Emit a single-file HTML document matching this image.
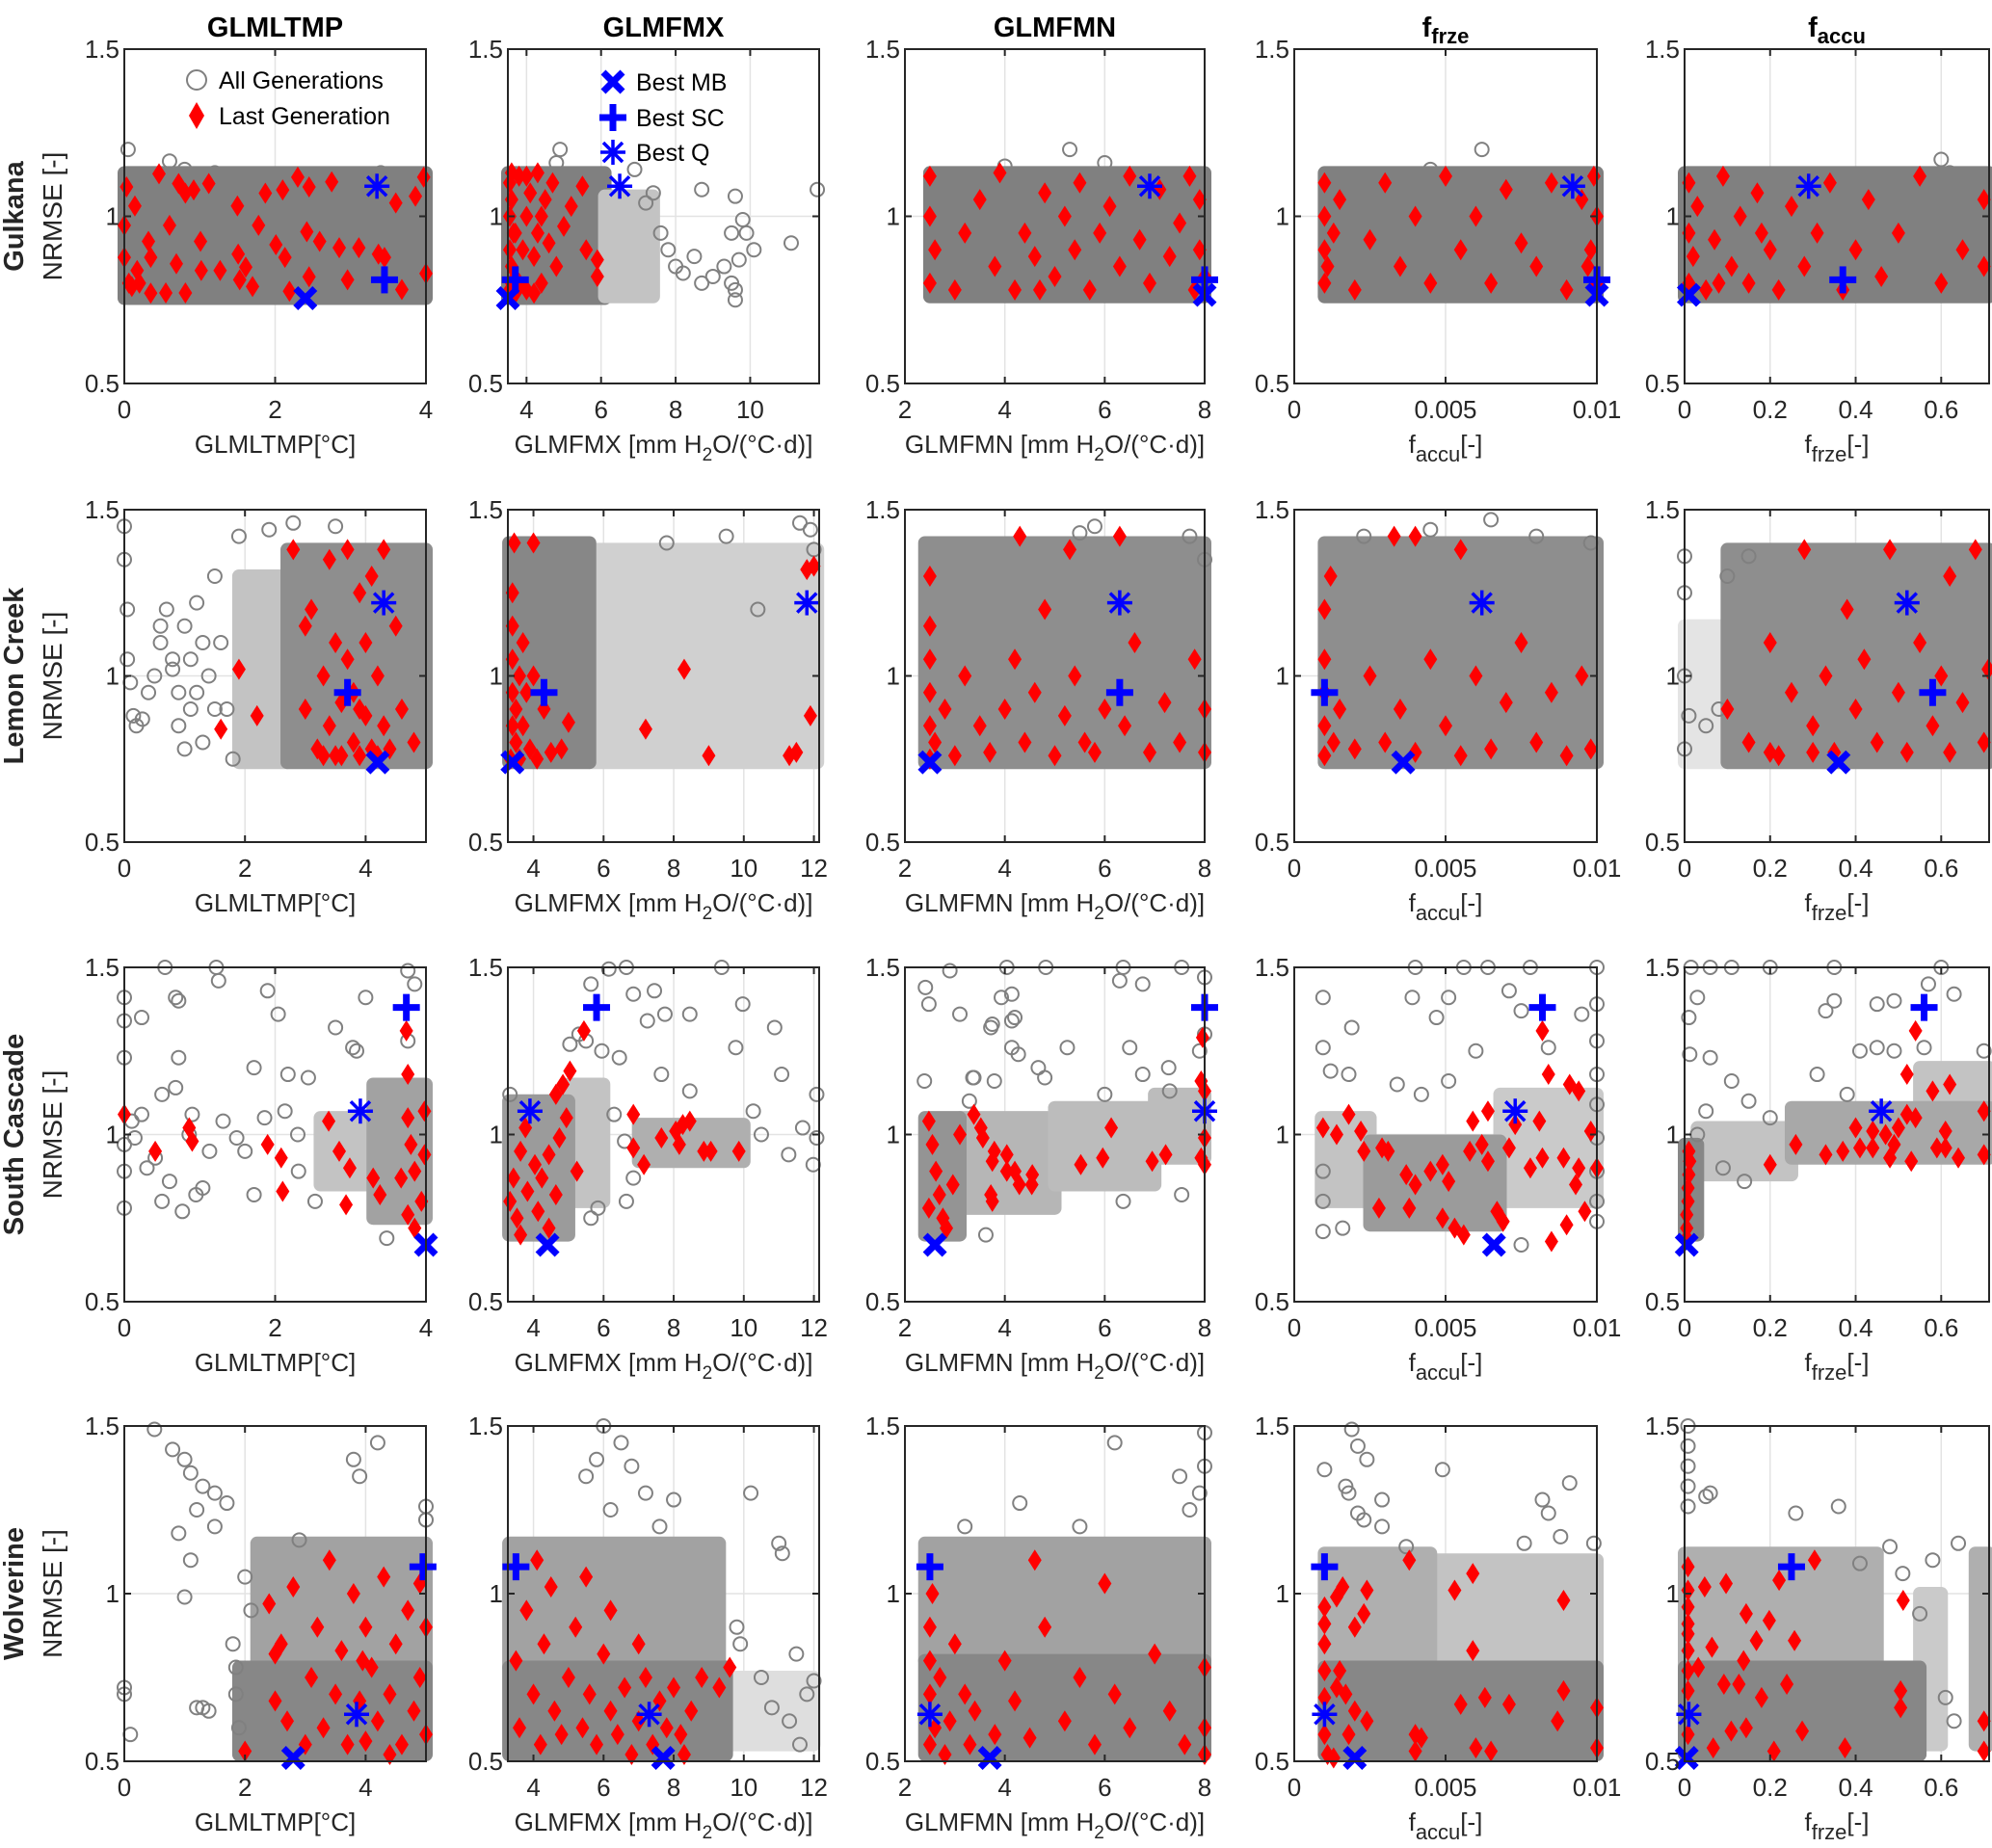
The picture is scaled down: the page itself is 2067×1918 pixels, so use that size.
<!DOCTYPE html>
<html><head><meta charset="utf-8">
<style>
html,body{margin:0;padding:0;background:#fff;}
svg{display:block;font-family:"Liberation Sans",Arial,sans-serif;}
</style></head>
<body>
<svg id="fig" width="2067" height="1918" viewBox="0 0 2067 1918" xmlns="http://www.w3.org/2000/svg"></svg>
<script>
// ---------- DATA (values in data units: [x, NRMSE]) ----------
// dense point clouds: [xmin, xmax, ymin, ymax, density]
const clouds_r1c1=[[0,4,0.755,1.13,1]];
const clouds_r1c2=[[3.5,6.1,0.755,1.13,1],[6.1,7.4,0.76,1.06,0.45]];
const clouds_r1c3=[[2.5,8,0.76,1.13,1]];
const clouds_r1c4=[[0.001,0.01,0.76,1.13,1]];
const clouds_r1c5=[[0,0.712,0.76,1.13,1]];
const clouds_r2c1=[[1.9,2.7,0.74,1.3,0.45],[2.7,5,0.74,1.38,0.85]];
const clouds_r2c2=[[5.6,12.1,0.74,1.38,0.35],[3.3,5.6,0.74,1.4,0.9]];
const clouds_r2c3=[[2.4,8,0.74,1.4,0.85]];
const clouds_r2c4=[[0.001,0.01,0.74,1.4,0.85]];
const clouds_r2c5=[[0,0.1,0.74,1.15,0.2],[0.1,0.712,0.74,1.38,0.85]];
const clouds_r3c1=[[2.6,3.3,0.85,1.05,0.45],[3.3,4,0.75,1.15,0.7]];
const clouds_r3c2=[[5.0,6.0,0.8,1.15,0.45],[3.3,5.0,0.7,1.1,0.75],[7.0,10.0,0.92,1.03,0.6]];
const clouds_r3c3=[[3.1,5,0.78,1.05,0.55],[5,7,0.85,1.08,0.5],[7,8,0.93,1.12,0.5],[2.4,3.1,0.7,1.05,0.8]];
const clouds_r3c4=[[0.0009,0.0025,0.8,1.05,0.45],[0.0068,0.01,0.8,1.12,0.4],[0.0025,0.0068,0.73,0.98,0.75]];
const clouds_r3c5=[[0.03,0.25,0.88,1.02,0.45],[0.55,0.712,1.08,1.2,0.45],[0.25,0.712,0.93,1.08,0.65],[0,0.03,0.7,0.97,0.9]];
const clouds_r4c1=[[2.2,5,0.78,1.15,0.7],[1.9,5,0.52,0.78,0.9]];
const clouds_r4c2=[[9.5,12,0.55,0.75,0.25],[3.3,9.3,0.78,1.15,0.7],[3.3,9.5,0.52,0.78,0.9]];
const clouds_r4c3=[[2.4,8,0.8,1.15,0.7],[2.4,8,0.52,0.8,0.9]];
const clouds_r4c4=[[0.0045,0.01,0.78,1.1,0.45],[0.001,0.0045,0.78,1.12,0.6],[0.001,0.01,0.52,0.78,0.9]];
const clouds_r4c5=[[0.55,0.6,0.55,1.0,0.4],[0.68,0.712,0.55,1.12,0.6],[0,0.45,0.78,1.12,0.6],[0,0.55,0.52,0.78,0.9]];

// scattered "all generations" points outside the dense clouds
const outs_r1c1=[[0.05,1.2],[0.6,1.165],[0.8,1.14],[3.4,1.13],[1.2,1.13]];
const outs_r1c2=[[7.6,0.95],[8.0,0.85],[8.2,0.83],[8.5,0.88],[9.0,0.82],[9.3,0.85],[9.5,0.80],[9.6,0.78],[9.5,0.95],[9.8,0.99],[9.9,0.95],[9.7,0.87],[10.1,0.9],[9.6,0.75],[11.8,1.08],[11.1,0.92],[7.8,0.9],[8.7,0.8],[7.2,1.04],[4.9,1.2],[4.8,1.16],[6.9,1.14],[7.4,1.07],[9.6,1.06],[8.7,1.08]];
const outs_r1c3=[[5.3,1.2],[6.0,1.16],[4.0,1.15]];
const outs_r1c4=[[0.0062,1.2],[0.0045,1.14]];
const outs_r1c5=[[0.6,1.17],[0.62,1.13]];
const outs_r2c1=[[0,1.45],[0,1.35],[0.05,1.2],[0.05,1.05],[0.1,0.98],[0.15,0.88],[0.2,0.85],[0.3,0.87],[0.5,1.0],[0.6,1.1],[0.6,1.15],[0.7,1.2],[0.8,1.05],[0.9,0.95],[1.0,1.15],[1.0,0.78],[1.1,0.9],[1.2,1.22],[1.3,0.8],[1.4,1.0],[1.5,1.3],[1.6,1.1],[1.7,0.9],[1.8,0.75],[1.3,1.1],[1.5,0.9],[1.9,1.42],[2.4,1.44],[2.8,1.46],[3.5,1.45],[0.8,1.02],[0.9,0.85],[0.4,0.95],[1.1,1.05],[1.2,0.95]];
const outs_r2c2=[[11.6,1.46],[11.9,1.44],[9.5,1.42],[7.8,1.4],[10.4,1.2],[12,1.38]];
const outs_r2c3=[[5.8,1.45],[5.5,1.43],[7.7,1.42],[8,1.35]];
const outs_r2c4=[[0.0023,1.42],[0.0045,1.44],[0.0065,1.47],[0.008,1.42],[0.0098,1.4]];
const outs_r2c5=[[0,1.36],[0,1.25],[0,1.0],[0.01,0.88],[0,0.78],[0.05,0.85],[0.08,0.9],[0.1,1.3],[0.15,1.36]];
const outs_r3c1=[[0,1.41],[0,1.34],[0,1.23],[0.54,1.5],[1.22,1.5],[1.25,1.46],[0.68,1.41],[0.72,1.4],[0.23,1.35],[0.72,1.23],[1.9,1.43],[2.04,1.36],[2.8,1.32],[3.2,1.41],[3.08,1.25],[1.72,1.2],[2.17,1.18],[2.44,1.17],[0.68,1.14],[0.5,1.12],[0.23,1.06],[0,0.97],[0,0.89],[0,0.78],[0.14,0.99],[0.41,0.93],[0.5,0.8],[0.77,0.77],[1.04,0.84],[1.31,1.04],[1.49,0.99],[1.72,0.82],[2.13,1.07],[2.31,0.89],[2.53,0.8],[1.13,0.95],[1.86,1.05],[0.86,1.0],[3.76,1.49],[3.85,1.45],[3.48,0.69],[3.03,1.26],[3.76,1.28],[0.3,0.9],[0.6,0.86],[0.95,0.82],[1.6,0.95],[2.3,1.0],[0.1,1.04],[0.9,1.06]];
const outs_r3c2=[[6.15,1.495],[6.65,1.5],[5.64,1.45],[6.85,1.42],[7.45,1.43],[9.37,1.5],[9.97,1.39],[8.46,1.36],[7.25,1.34],[7.75,1.36],[9.77,1.26],[10.88,1.32],[11.08,1.18],[11.28,0.94],[12.08,1.12],[12.08,0.99],[11.98,0.91],[11.68,1.02],[6.45,1.23],[5.95,1.25],[5.04,1.27],[7.65,1.18],[8.46,1.13],[10.27,1.07],[6.85,0.87],[6.65,0.8],[5.64,0.75],[5.84,0.78],[3.33,1.12],[6.3,1.06],[6.6,0.98],[10.5,1.0],[5.3,1.3],[5.5,1.28]];
const outs_r3c3=[[4.04,1.5],[4.82,1.5],[6.37,1.5],[7.54,1.5],[8,1.47],[4.14,1.42],[4.2,1.35],[6.3,1.46],[6.76,1.45],[3.75,1.33],[5.25,1.26],[6.5,1.26],[4.14,1.26],[4.27,1.24],[4.67,1.2],[4.8,1.17],[6.76,1.18],[7.28,1.2],[7.54,0.82],[3.62,0.7],[6.37,0.8],[3.36,1.17],[3.29,1.1],[2.41,1.44],[2.48,1.39],[2.9,1.49],[3.1,1.36],[3.93,1.41],[4.14,1.34],[3.79,1.16],[3.38,1.17],[3.72,1.32],[2.39,1.16],[8,1.3],[7.9,1.25],[7.3,1.13],[6.0,1.12]];
const outs_r3c4=[[0.00095,1.41],[0.004,1.5],[0.0039,1.41],[0.0056,1.5],[0.0064,1.5],[0.0078,1.5],[0.01,1.5],[0.0047,1.35],[0.0051,1.41],[0.006,1.25],[0.0071,1.43],[0.0075,1.37],[0.0095,1.36],[0.01,1.39],[0.01,1.28],[0.00095,1.26],[0.0012,1.19],[0.0019,1.32],[0.0018,1.18],[0.0034,1.15],[0.0042,1.12],[0.0051,1.16],[0.0084,1.26],[0.00095,0.71],[0.0016,0.72],[0.0075,0.67],[0.01,1.18],[0.01,1.09],[0.01,0.99],[0.01,0.89],[0.01,0.8],[0.01,0.74],[0.00095,0.8],[0.00095,0.89]];
const outs_r3c5=[[0.015,1.5],[0.06,1.5],[0.11,1.5],[0.2,1.5],[0.35,1.5],[0.6,1.5],[0.03,1.41],[0.01,1.35],[0.012,1.24],[0.06,1.23],[0.11,1.16],[0.35,1.4],[0.33,1.37],[0.45,1.39],[0.49,1.4],[0.57,1.45],[0.63,1.42],[0.41,1.25],[0.45,1.26],[0.49,1.25],[0.56,1.26],[0.7,1.25],[0.14,0.86],[0.09,0.9],[0.05,1.07],[0.03,1.0],[0.31,1.18],[0.2,1.05],[0.15,1.1],[0.38,1.12]];
const outs_r4c1=[[0.5,1.49],[0.8,1.43],[1.0,1.4],[1.1,1.36],[1.3,1.32],[1.5,1.3],[1.2,1.25],[1.5,1.2],[1.7,1.27],[0.9,1.18],[1.1,1.1],[1.0,0.99],[1.3,0.66],[1.4,0.65],[1.2,0.66],[0,0.72],[0,0.7],[0.1,0.58],[1.8,0.85],[1.85,0.7],[1.9,0.6],[1.85,0.78],[2.0,1.05],[2.9,1.16],[3.8,1.4],[3.9,1.35],[4.2,1.45],[5,1.26],[5,1.22],[2.1,0.95]];
const outs_r4c2=[[6.0,1.5],[6.5,1.45],[5.8,1.4],[6.8,1.38],[7.2,1.3],[5.5,1.35],[6.2,1.25],[8.0,1.28],[7.6,1.2],[10.2,1.3],[11.0,1.15],[11.1,1.12],[11.5,0.82],[12,0.74],[9.9,0.85],[10.5,0.75],[11.3,0.62],[11.8,0.7],[11.6,0.55],[9.8,0.9],[10.8,0.66]];
const outs_r4c3=[[4.3,1.27],[6.2,1.45],[7.5,1.35],[7.7,1.25],[8,1.48],[8,1.38],[7.9,1.3],[5.5,1.2],[3.2,1.2]];
const outs_r4c4=[[0.0019,1.49],[0.001,1.37],[0.0021,1.44],[0.0024,1.4],[0.0017,1.32],[0.0018,1.3],[0.0029,1.28],[0.0021,1.24],[0.0023,1.22],[0.0049,1.37],[0.0091,1.33],[0.0082,1.28],[0.0084,1.24],[0.0076,1.15],[0.0088,1.17],[0.0037,1.14],[0.0029,1.2],[0.0099,1.15]];
const outs_r4c5=[[0.008,1.5],[0.008,1.44],[0.008,1.38],[0.008,1.32],[0.008,1.26],[0.05,1.29],[0.06,1.3],[0.26,1.24],[0.36,1.26],[0.64,1.15],[0.48,1.14],[0.58,1.1],[0.41,1.09],[0.51,1.06],[0.63,0.62],[0.61,0.69],[0.55,0.94]];

// last generation (red diamonds)
const red_r1c1=[[0.03,1.088],[0,0.973],[0,0.877],[0.06,0.8],[0.14,1.031],[0.17,0.838],[0.32,0.925],[0.35,0.877],[0.46,1.127],[0.55,0.771],[0.6,0.973],[0.69,0.858],[0.72,1.098],[0.81,1.069],[0.81,0.771],[0.92,1.079],[1.01,0.925],[1.02,0.838],[1.12,1.098],[1.27,0.838],[1.5,1.031],[1.51,0.887],[1.53,0.81],[1.61,0.848],[1.7,0.79],[1.78,0.973],[1.87,1.069],[2.01,0.915],[2.1,1.079],[2.13,0.877],[2.19,0.776],[2.3,1.117],[2.42,0.954],[2.45,1.088],[2.45,0.819],[2.59,0.925],[2.75,1.103],[2.85,0.906],[2.96,0.81],[3.11,0.906],[3.37,0.887],[3.45,0.877],[3.6,1.04],[3.68,0.781],[3.86,1.06],[3.97,1.117],[4.0,0.829],[0.1,0.79],[0.2,0.8],[0.35,0.77]];
const red_r1c2=[[3.55,1.1],[3.55,1.0],[3.55,0.9],[3.6,0.85],[3.6,1.05],[3.7,0.95],[3.8,0.8],[3.8,1.12],[3.9,0.9],[4.0,1.0],[4.0,0.78],[4.1,1.07],[4.2,0.88],[4.3,0.95],[4.3,1.13],[4.4,0.8],[4.5,1.05],[4.6,0.92],[4.7,1.1],[4.8,0.85],[5.0,0.97],[5.2,1.03],[5.5,1.09],[5.6,0.9],[3.55,0.78],[3.6,1.13],[3.7,0.77],[4.0,1.12],[4.2,0.77],[5.9,0.87],[5.9,0.82],[3.65,0.95],[3.6,0.8],[4.4,1.0]];
const red_r1c3=[[2.5,0.8],[2.5,1.0],[2.5,1.12],[2.6,0.9],[3.0,0.78],[3.2,0.95],[3.5,1.05],[3.8,0.85],[3.9,1.13],[4.2,0.78],[4.4,0.95],[4.6,0.88],[4.8,1.07],[5.0,0.82],[5.2,1.0],[5.4,0.9],[5.5,1.1],[5.7,0.78],[5.9,0.95],[6.1,1.03],[6.3,0.85],[6.5,1.12],[6.7,0.93],[6.9,0.8],[7.1,1.08],[7.3,0.88],[7.5,0.98],[7.7,1.12],[7.9,0.9],[7.9,1.05],[8,0.82],[7.8,0.78],[4.7,0.78]];
const red_r1c4=[[0.001,0.8],[0.001,0.9],[0.001,1.0],[0.001,1.1],[0.0011,0.85],[0.0013,0.95],[0.0015,1.05],[0.002,0.78],[0.0025,0.93],[0.003,1.1],[0.0035,0.85],[0.004,1.0],[0.0045,0.8],[0.005,1.12],[0.0055,0.9],[0.006,1.0],[0.0065,0.8],[0.007,1.08],[0.0075,0.92],[0.008,0.85],[0.0085,1.1],[0.009,0.78],[0.0095,1.05],[0.0098,0.9],[0.01,0.8],[0.01,1.0],[0.0099,1.12],[0.0097,0.85]];
const red_r1c5=[[0.01,0.8],[0.01,0.95],[0.01,1.1],[0.02,0.88],[0.03,1.03],[0.05,0.78],[0.07,0.93],[0.09,1.12],[0.11,0.85],[0.13,1.0],[0.15,0.8],[0.17,1.07],[0.2,0.9],[0.22,0.78],[0.25,1.03],[0.28,0.85],[0.31,0.95],[0.34,1.1],[0.37,0.78],[0.4,0.9],[0.43,1.05],[0.46,0.82],[0.5,0.95],[0.55,1.12],[0.6,0.8],[0.65,0.9],[0.7,0.85],[0.7,1.05],[0.08,0.8],[0.18,0.95]];
const red_r2c1=[[1.6,0.84],[1.9,1.02],[2.2,0.88],[2.8,1.38],[3.0,0.9],[3.1,1.2],[3.2,0.78],[3.3,1.0],[3.4,1.35],[3.4,0.85],[3.5,1.1],[3.6,0.76],[3.6,0.92],[3.7,1.38],[3.7,1.05],[3.8,0.8],[3.8,0.95],[3.9,1.25],[3.9,0.76],[4.0,0.88],[4.0,1.1],[4.1,1.3],[4.1,0.78],[4.2,1.0],[4.3,0.85],[4.3,1.38],[4.4,0.78],[4.5,1.15],[4.6,0.9],[3.3,0.76],[3.5,0.76],[3.9,0.9],[4.2,0.76],[3.0,1.15],[4.8,0.8]];
const red_r2c2=[[3.35,0.75],[3.4,0.85],[3.4,0.95],[3.4,1.05],[3.4,1.15],[3.4,1.25],[3.45,1.4],[3.5,0.8],[3.5,0.9],[3.6,1.0],[3.6,0.75],[3.7,1.1],[3.7,0.85],[3.8,0.95],[3.9,0.78],[4.0,1.0],[4.0,1.4],[4.1,0.75],[4.3,0.9],[4.5,0.77],[4.8,0.78],[5.0,0.86],[7.2,0.84],[8.3,1.02],[9.0,0.76],[11.3,0.76],[11.8,1.32],[12,1.33],[11.9,0.88],[11.5,0.77]];
const red_r2c3=[[2.5,0.75],[2.5,0.85],[2.5,0.95],[2.5,1.05],[2.5,1.15],[2.5,1.3],[2.6,0.8],[2.8,0.9],[3.0,0.76],[3.2,1.0],[3.5,0.85],[3.7,0.77],[4.0,0.9],[4.2,1.05],[4.4,0.8],[4.6,0.95],[4.8,1.2],[5.0,0.76],[5.2,0.88],[5.4,1.0],[5.6,0.8],[5.8,0.77],[6.0,0.9],[6.3,1.42],[6.4,0.85],[6.6,1.1],[6.9,0.77],[7.2,0.92],[7.5,0.8],[7.8,1.05],[8,0.77],[8,0.9],[4.3,1.42],[5.3,1.38]];
const red_r2c4=[[0.001,0.76],[0.001,0.85],[0.001,0.95],[0.001,1.05],[0.001,1.2],[0.0012,1.3],[0.0013,0.8],[0.0015,0.9],[0.002,0.78],[0.0025,1.0],[0.003,0.8],[0.0033,1.42],[0.0035,0.9],[0.004,0.77],[0.0045,1.05],[0.005,0.85],[0.0055,0.76],[0.006,1.0],[0.0065,0.78],[0.007,0.92],[0.0075,1.1],[0.008,0.8],[0.0085,0.95],[0.009,0.76],[0.0095,1.0],[0.0098,0.78],[0.0055,1.38],[0.004,1.42]];
const red_r2c5=[[0.1,0.9],[0.15,0.8],[0.2,1.1],[0.22,0.76],[0.25,0.95],[0.28,1.38],[0.3,0.85],[0.33,1.0],[0.35,0.77],[0.38,1.2],[0.4,0.9],[0.42,1.05],[0.45,0.8],[0.48,1.38],[0.5,0.95],[0.52,0.77],[0.55,1.1],[0.58,0.85],[0.6,1.0],[0.62,0.77],[0.65,0.92],[0.68,1.38],[0.7,0.8],[0.71,1.02],[0.2,0.77],[0.3,0.77],[0.62,1.3]];
const red_r3c1=[[0,1.06],[0.41,0.95],[0.86,1.02],[0.9,0.98],[1.9,0.97],[2.08,0.93],[2.1,0.83],[2.71,1.04],[2.85,0.95],[2.99,0.9],[2.94,0.79],[3.3,0.87],[3.39,0.82],[3.67,0.87],[3.74,1.31],[3.76,1.18],[3.76,1.05],[3.8,0.97],[3.85,0.89],[3.94,0.8],[3.98,1.07],[3.98,0.94],[3.76,0.76],[3.85,0.72]];
const red_r3c2=[[3.77,1.02],[5.04,1.19],[4.84,1.15],[4.64,1.12],[4.94,1.05],[5.44,1.31],[5.24,0.89],[4.74,0.99],[4.44,0.94],[4.04,0.91],[3.63,0.95],[3.43,0.87],[3.33,0.8],[3.53,0.75],[3.83,0.83],[4.13,0.77],[4.44,0.72],[3.63,0.7],[4.64,0.82],[4.24,0.87],[6.85,1.06],[7.15,0.91],[6.85,0.96],[7.65,0.99],[8.06,1.01],[8.26,1.03],[8.46,1.04],[8.86,0.95],[9.06,0.95],[9.86,0.95],[8.16,0.97]];
const red_r3c3=[[2.48,1.04],[2.55,0.97],[2.62,0.89],[2.69,0.82],[2.76,0.75],[2.83,0.72],[2.48,0.78],[2.96,0.85],[3.1,1.0],[3.38,1.06],[3.52,1.02],[3.79,0.95],[4.2,0.89],[4.55,0.88],[3.72,0.82],[3.56,0.99],[3.75,0.92],[4.04,0.94],[4.04,0.89],[4.29,0.85],[4.54,0.85],[3.75,0.8],[5.52,0.91],[5.96,0.93],[6.13,1.02],[6.95,0.92],[7.22,0.94],[7.93,1.16],[8,1.13],[8,0.99],[7.93,0.93],[8,0.91],[7.96,1.29]];
const red_r3c4=[[0.00095,1.02],[0.0014,1.0],[0.0018,1.06],[0.0022,1.01],[0.0023,0.95],[0.0029,0.96],[0.0031,0.95],[0.0028,0.78],[0.0038,0.78],[0.0037,0.88],[0.004,0.85],[0.0045,0.89],[0.0049,0.91],[0.0051,0.86],[0.0049,0.75],[0.0053,0.72],[0.0056,0.7],[0.0058,0.95],[0.0059,1.04],[0.0062,0.97],[0.0064,1.07],[0.0064,0.92],[0.0067,0.77],[0.0069,0.74],[0.0071,0.96],[0.0073,1.03],[0.0078,0.9],[0.0081,1.04],[0.0082,0.93],[0.0082,1.31],[0.0084,1.18],[0.0089,0.93],[0.0091,1.15],[0.0094,1.13],[0.0094,0.9],[0.0093,0.85],[0.0098,1.01],[0.01,0.9],[0.0096,0.77],[0.009,0.73],[0.0085,0.68]];
const red_r3c5=[[0.005,0.69],[0.005,0.72],[0.005,0.76],[0.008,0.8],[0.008,0.84],[0.01,0.88],[0.012,0.92],[0.01,0.95],[0.2,0.91],[0.26,0.97],[0.33,0.94],[0.37,0.95],[0.4,1.02],[0.41,0.96],[0.44,1.01],[0.44,0.96],[0.47,1.0],[0.48,0.93],[0.49,0.97],[0.5,1.02],[0.52,1.06],[0.52,1.18],[0.53,0.92],[0.54,1.05],[0.54,1.31],[0.58,1.13],[0.59,0.96],[0.61,1.01],[0.62,1.15],[0.64,0.93],[0.7,1.07],[0.7,0.94],[0.61,0.96]];
const red_r4c1=[[2.0,0.53],[2.4,0.97],[2.5,0.68],[2.6,0.85],[2.7,0.62],[2.8,1.02],[3.0,0.55],[3.1,0.75],[3.2,0.9],[3.3,0.6],[3.4,1.1],[3.5,0.7],[3.6,0.83],[3.7,0.55],[3.8,1.0],[3.9,0.68],[4.0,0.9],[4.0,0.56],[4.1,0.78],[4.2,0.62],[4.3,1.05],[4.4,0.7],[4.5,0.85],[4.6,0.55],[4.7,0.95],[4.8,0.65],[4.9,0.75],[5.0,0.9],[5.0,0.58],[4.9,1.03],[3.95,0.8],[4.4,0.52],[2.5,0.82]];
const red_r4c2=[[3.5,0.8],[3.6,0.6],[3.8,0.95],[4.0,0.7],[4.2,0.55],[4.3,0.85],[4.5,1.02],[4.6,0.65],[4.8,0.58],[5.0,0.75],[5.2,0.9],[5.4,0.6],[5.6,0.7],[5.8,0.55],[6.0,0.82],[6.2,0.65],[6.4,0.58],[6.6,0.72],[6.8,0.52],[7.0,0.62],[7.2,0.75],[7.4,0.55],[7.6,0.68],[7.8,0.6],[8.0,0.72],[8.2,0.58],[8.5,0.65],[8.8,0.75],[9.3,0.72],[9.6,0.78],[5.5,1.05],[6.2,0.95],[4.1,1.1],[8.3,0.52],[7.0,0.85]];
const red_r4c3=[[2.5,0.55],[2.5,0.7],[2.5,0.8],[2.5,0.9],[2.55,1.0],[2.6,0.6],[2.7,0.75],[2.8,0.52],[2.9,0.62],[3.0,0.85],[3.2,0.7],[3.3,0.55],[3.4,0.65],[3.8,0.58],[4.0,0.8],[4.2,0.68],[4.5,0.57],[4.8,0.9],[5.2,0.62],[5.5,0.75],[5.8,0.55],[6.0,1.03],[6.2,0.7],[6.5,0.6],[7.0,0.82],[7.3,0.65],[7.6,0.55],[8.0,0.6],[8.0,0.78],[8,0.52],[4.6,1.1]];
const red_r4c4=[[0.001,0.96],[0.001,0.91],[0.001,0.85],[0.001,0.77],[0.001,0.69],[0.001,0.58],[0.0011,0.52],[0.0014,0.99],[0.0016,1.02],[0.002,0.9],[0.0023,0.94],[0.0024,1.01],[0.0015,0.77],[0.0014,0.72],[0.0017,0.7],[0.002,0.65],[0.0024,0.62],[0.0018,0.58],[0.0013,0.51],[0.0038,1.1],[0.004,0.58],[0.0042,0.57],[0.004,0.53],[0.0053,1.01],[0.0055,0.67],[0.0059,0.83],[0.0059,1.06],[0.0063,0.69],[0.006,0.54],[0.0065,0.53],[0.0071,0.67],[0.0087,0.62],[0.0089,0.71],[0.0089,0.98],[0.01,0.66],[0.01,0.54]];
const red_r4c5=[[0.008,1.08],[0.008,1.01],[0.008,0.96],[0.008,0.91],[0.008,0.88],[0.008,0.83],[0.008,0.77],[0.008,0.71],[0.008,0.58],[0.032,0.78],[0.047,1.02],[0.064,0.84],[0.067,0.54],[0.092,0.73],[0.097,1.03],[0.109,0.59],[0.127,0.73],[0.138,0.8],[0.144,0.94],[0.144,0.6],[0.168,0.86],[0.18,0.69],[0.198,0.92],[0.209,0.53],[0.221,1.04],[0.239,0.73],[0.257,0.86],[0.275,0.59],[0.304,1.1],[0.375,0.54],[0.511,0.98],[0.505,0.71],[0.505,0.66],[0.70,0.62],[0.70,0.53]];

// best parameter sets: [Best MB, Best SC, Best Q]
const best_r1c1=[[2.4,0.755],[3.45,0.81],[3.35,1.09]];
const best_r1c2=[[3.5,0.755],[3.7,0.81],[6.5,1.09]];
const best_r1c3=[[8,0.765],[8,0.81],[6.9,1.09]];
const best_r1c4=[[0.01,0.765],[0.01,0.81],[0.0092,1.09]];
const best_r1c5=[[0.01,0.765],[0.37,0.81],[0.29,1.09]];
const best_r2c1=[[4.2,0.74],[3.7,0.95],[4.3,1.22]];
const best_r2c2=[[3.4,0.74],[4.3,0.95],[11.8,1.22]];
const best_r2c3=[[2.5,0.74],[6.3,0.95],[6.3,1.22]];
const best_r2c4=[[0.0036,0.74],[0.001,0.95],[0.0062,1.22]];
const best_r2c5=[[0.36,0.74],[0.58,0.95],[0.52,1.22]];
const best_r3c1=[[4,0.67],[3.74,1.38],[3.13,1.07]];
const best_r3c2=[[4.4,0.67],[5.8,1.38],[3.9,1.07]];
const best_r3c3=[[2.6,0.67],[8,1.38],[8,1.07]];
const best_r3c4=[[0.0066,0.67],[0.0082,1.38],[0.0073,1.07]];
const best_r3c5=[[0.005,0.67],[0.56,1.38],[0.46,1.07]];
const best_r4c1=[[2.8,0.51],[4.95,1.08],[3.85,0.64]];
const best_r4c2=[[7.7,0.51],[3.5,1.08],[7.3,0.64]];
const best_r4c3=[[3.7,0.51],[2.5,1.08],[2.5,0.64]];
const best_r4c4=[[0.002,0.51],[0.001,1.08],[0.001,0.64]];
const best_r4c5=[[0.005,0.51],[0.25,1.08],[0.01,0.64]];

// axis settings
const glaciers=["Gulkana","Lemon Creek","South Cascade","Wolverine"];
const yTicks=[0.5,1,1.5];
const yTickLabels=["0.5","1","1.5"];
const xDomains=[
 [[0,4],[3.5,11.85],[2,8],[0,0.01],[0,0.712]],
 [[0,5],[3.27,12.15],[2,8],[0,0.01],[0,0.712]],
 [[0,4],[3.27,12.15],[2,8],[0,0.01],[0,0.712]],
 [[0,5],[3.27,12.15],[2,8],[0,0.01],[0,0.712]]];
const xTicksC1=[0,2,4];
const xTicksC2r1=[4,6,8,10];
const xTicksC2=[4,6,8,10,12];
const xTicksC3=[2,4,6,8];
const xTicksC4=[0,0.005,0.01];
const xTickLabelsC4=["0","0.005","0.01"];
const xTicksC5=[0,0.2,0.4,0.6];

const allClouds=[[clouds_r1c1,clouds_r1c2,clouds_r1c3,clouds_r1c4,clouds_r1c5],[clouds_r2c1,clouds_r2c2,clouds_r2c3,clouds_r2c4,clouds_r2c5],[clouds_r3c1,clouds_r3c2,clouds_r3c3,clouds_r3c4,clouds_r3c5],[clouds_r4c1,clouds_r4c2,clouds_r4c3,clouds_r4c4,clouds_r4c5]];
const allOuts=[[outs_r1c1,outs_r1c2,outs_r1c3,outs_r1c4,outs_r1c5],[outs_r2c1,outs_r2c2,outs_r2c3,outs_r2c4,outs_r2c5],[outs_r3c1,outs_r3c2,outs_r3c3,outs_r3c4,outs_r3c5],[outs_r4c1,outs_r4c2,outs_r4c3,outs_r4c4,outs_r4c5]];
const allRed=[[red_r1c1,red_r1c2,red_r1c3,red_r1c4,red_r1c5],[red_r2c1,red_r2c2,red_r2c3,red_r2c4,red_r2c5],[red_r3c1,red_r3c2,red_r3c3,red_r3c4,red_r3c5],[red_r4c1,red_r4c2,red_r4c3,red_r4c4,red_r4c5]];
const allBest=[[best_r1c1,best_r1c2,best_r1c3,best_r1c4,best_r1c5],[best_r2c1,best_r2c2,best_r2c3,best_r2c4,best_r2c5],[best_r3c1,best_r3c2,best_r3c3,best_r3c4,best_r3c5],[best_r4c1,best_r4c2,best_r4c3,best_r4c4,best_r4c5]];

// ---------- LAYOUT ----------
const colBox=[[129,442],[527,850],[939,1250],[1343,1657],[1748,2064]];
const rowBox=[[51,398],[529,874],[1004,1351],[1480,1828]];
const NS="http://www.w3.org/2000/svg";
const svg=document.getElementById("fig");
function mk(tag,attrs,parent){const e=document.createElementNS(NS,tag);for(const k in attrs)e.setAttribute(k,attrs[k]);(parent||svg).appendChild(e);return e;}
const GRAY="#808080",BLUE="#0000ff",RED="#ff0000";
function cloudColor(d){const v=Math.round(255-Math.min(1,d*1.05)*(255-128));return `rgb(${v},${v},${v})`;}

function circle(g,x,y){const c=mk("circle",{cx:x,cy:y,r:7,fill:"none",stroke:GRAY,"stroke-width":2},g);

return c;}
function diamond(g,x,y){const p=mk("polygon",{points:`${x},${y-11} ${x+7},${y} ${x},${y+11} ${x-7},${y}`,fill:RED},g);

return p;}
function bestMB(g,x,y){const gg=mk("g",{stroke:BLUE,"stroke-width":7},g);


mk("line",{x1:x-10,y1:y-10,x2:x+10,y2:y+10},gg);mk("line",{x1:x-10,y1:y+10,x2:x+10,y2:y-10},gg);return gg;}
function bestSC(g,x,y){const gg=mk("g",{stroke:BLUE,"stroke-width":7},g);


mk("line",{x1:x-14,y1:y,x2:x+14,y2:y},gg);mk("line",{x1:x,y1:y-14,x2:x,y2:y+14},gg);return gg;}
function bestQ(g,x,y){const gg=mk("g",{stroke:BLUE,"stroke-width":3.5},g);


mk("line",{x1:x-13,y1:y,x2:x+13,y2:y},gg);mk("line",{x1:x,y1:y-13,x2:x,y2:y+13},gg);
mk("line",{x1:x-10,y1:y-10,x2:x+10,y2:y+10},gg);mk("line",{x1:x-10,y1:y+10,x2:x+10,y2:y-10},gg);return gg;}

function xTicksFor(r,c){
 if(c===0)return [xTicksC1,xTicksC1.map(String)];
 if(c===1)return r===0?[xTicksC2r1,xTicksC2r1.map(String)]:[xTicksC2,xTicksC2.map(String)];
 if(c===2)return [xTicksC3,xTicksC3.map(String)];
 if(c===3)return [xTicksC4,xTickLabelsC4];
 return [xTicksC5,xTicksC5.map(String)];
}

for(let r=0;r<4;r++){
 const [top,bot]=rowBox[r];
 for(let c=0;c<5;c++){
  const [L,R]=colBox[c];
  const [d0,d1]=xDomains[r][c];
  const sx=v=>L+(v-d0)/(d1-d0)*(R-L);
  const sy=v=>bot-(v-0.5)/(1.0)*(bot-top);
  const g=mk("g",{});
  
  
  const [xt,xtl]=xTicksFor(r,c);
  const grid=mk("g",{stroke:"#e3e3e3","stroke-width":1.5},g);
  
  
  xt.forEach(v=>{const X=sx(v);if(X>L+2&&X<R-2)mk("line",{x1:X,y1:top,x2:X,y2:bot},grid);});
  mk("line",{x1:L,y1:sy(1),x2:R,y2:sy(1)},grid);
  allClouds[r][c].forEach(cl=>{
   const x0=sx(cl[0]),x1=sx(cl[1]),y0=sy(cl[3]),y1=sy(cl[2]);
   const rc=mk("rect",{x:x0-7,y:y0-7,width:x1-x0+14,height:y1-y0+14,rx:7,fill:cloudColor(cl[4])},g);
   
   
  });
  allOuts[r][c].forEach(p=>circle(g,sx(p[0]),sy(p[1])));
  allRed[r][c].forEach(p=>diamond(g,sx(p[0]),sy(p[1])));
  const b=allBest[r][c];
  bestMB(g,sx(b[0][0]),sy(b[0][1]));
  bestSC(g,sx(b[1][0]),sy(b[1][1]));
  bestQ(g,sx(b[2][0]),sy(b[2][1]));
  const box=mk("rect",{x:L,y:top,width:R-L,height:bot-top,fill:"none",stroke:"#262626","stroke-width":2},g);
  
  
  const tk=mk("g",{stroke:"#262626","stroke-width":2},g);
  
  
  xt.forEach(v=>{const X=sx(v);mk("line",{x1:X,y1:bot,x2:X,y2:bot-7},tk);mk("line",{x1:X,y1:top,x2:X,y2:top+7},tk);});
  yTicks.forEach(v=>{const Y=sy(v);mk("line",{x1:L,y1:Y,x2:L+7,y2:Y},tk);mk("line",{x1:R,y1:Y,x2:R-7,y2:Y},tk);});
  xt.forEach((v,i)=>{const t=mk("text",{x:sx(v),y:bot+36,"font-size":26,"text-anchor":"middle",fill:"#262626"},g);t.textContent=xtl[i];
   
   });
  yTicks.forEach((v,i)=>{const t=mk("text",{x:L-5,y:sy(v)+9,"font-size":26,"text-anchor":"end",fill:"#262626"},g);t.textContent=yTickLabels[i];
   
   });
  const cx=(L+R)/2;
  const xl=mk("text",{x:cx,y:bot+72,"font-size":26,"text-anchor":"middle",fill:"#262626"},g);
  
  
  if(c===0){xl.textContent="GLMLTMP[°C]";}
  else if(c===1||c===2){
   const nm=c===1?"GLMFMX":"GLMFMN";
   xl.appendChild(document.createTextNode(nm+" [mm H"));
   const s=mk("tspan",{"font-size":19,dy:8},xl);s.textContent="2";
   const s2=mk("tspan",{dy:-8},xl);s2.textContent="O/(°C·d)]";
  } else {
   xl.appendChild(document.createTextNode("f"));
   const s=mk("tspan",{"font-size":22,dy:9},xl);s.textContent=c===3?"accu":"frze";
   const s2=mk("tspan",{dy:-9},xl);s2.textContent="[-]";
  }
 }
 const my=(rowBox[r][0]+rowBox[r][1])/2;
 const yl=mk("text",{x:55,y:my,"font-size":28,"text-anchor":"middle",fill:"#262626",transform:`rotate(-90 55 ${my})`,dy:9});
 yl.textContent="NRMSE [-]";
 
 
 const gl=mk("text",{x:14,y:my,"font-size":29,"font-weight":"bold","text-anchor":"middle",fill:"#262626",transform:`rotate(-90 14 ${my})`,dy:10});
 gl.textContent=glaciers[r];
 
 
}

const titles=[["GLMLTMP",""],["GLMFMX",""],["GLMFMN",""],["f","frze"],["f","accu"]];
titles.forEach((t,c)=>{
 const cx=(colBox[c][0]+colBox[c][1])/2;
 const e=mk("text",{x:cx,y:38,"font-size":29,"font-weight":"bold","text-anchor":"middle",fill:"#000"});
 
 
 e.appendChild(document.createTextNode(t[0]));
 if(t[1]){const s=mk("tspan",{"font-size":22,dy:7},e);s.textContent=t[1];}
});

const lg1=mk("g",{});


const lc=mk("circle",{cx:204,cy:83,r:10,fill:"none",stroke:GRAY,"stroke-width":2},lg1);


let t=mk("text",{x:227,y:92,"font-size":25,fill:"#000"},lg1);t.textContent="All Generations";


const dm=mk("polygon",{points:"204,106 212,120 204,134 196,120",fill:RED},lg1);


t=mk("text",{x:227,y:129,"font-size":25,fill:"#000"},lg1);t.textContent="Last Generation";


const lg2=mk("g",{});


bestMB(lg2,636,85);bestSC(lg2,636,122);bestQ(lg2,636,158);
[["Best MB",94],["Best SC",131],["Best Q",167]].forEach(a=>{const e=mk("text",{x:660,y:a[1],"font-size":25,fill:"#000"},lg2);e.textContent=a[0];
 
 });
</script>
</body></html>
